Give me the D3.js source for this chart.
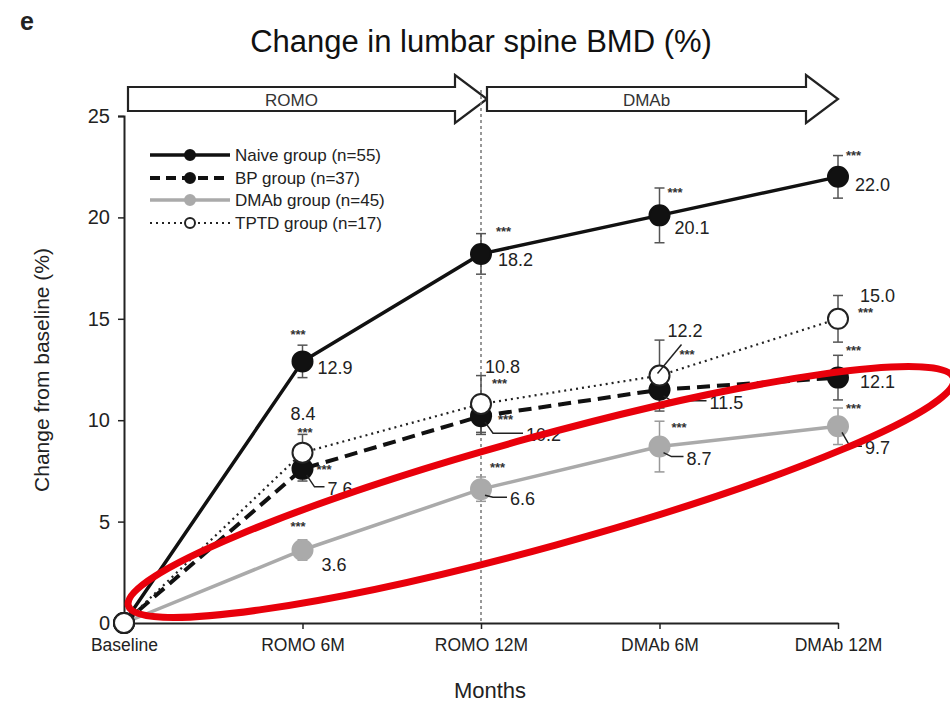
<!DOCTYPE html>
<html><head><meta charset="utf-8">
<script src="https://cdn.jsdelivr.net/npm/d3@7"></script>
<style>body{margin:0;background:#fff}svg{display:block}text{font-family:Arial,"Liberation Sans",sans-serif}</style>
</head><body>
<svg id="chart" width="950" height="704"></svg>
<script>
const categories = ["Baseline","ROMO 6M","ROMO 12M","DMAb 6M","DMAb 12M"];
const yTicks = [0,5,10,15,20,25];
const seriesNames = ["Naive group (n=55)","BP group (n=37)","DMAb group (n=45)","TPTD group (n=17)"];
const naiveValues = [0,12.9,18.2,20.1,22.0];
const bpValues = [0,7.6,10.2,11.5,12.1];
const dmabValues = [0,3.6,6.6,8.7,9.7];
const tptdValues = [0,8.4,10.8,12.2,15.0];
const naiveErr = [0,0.8,1.0,1.35,1.05];
const bpErr = [0,0.6,0.9,0.9,1.1];
const dmabErr = [0,0.5,0.6,1.25,0.9];
const tptdErr = [0,0.9,1.4,1.75,1.15];
const phases = ["ROMO","DMAb"];

// label layout: [valueDx, valueDy, starDx, starDy, leader?] relative to point
const labelLayout = {
  naive: [null,[15,13,-12,-22],[17,12,15,-18],[15,19,8,-18],[17,14,8,-17]],
  bp: [null,[25,26,14,5,1],[45,25,17,8,1],[50,19,null,null,1],[22,10,8,-23]],
  dmab: [null,[19,21,-12,-19],[29,16,9,-17,1],[27,18,12,-15,1],[27,28,8,-13,1]],
  tptd: [null,[-12,-33,-5,-16],[4,-31,11,-16],[8,-39,20,-17,2],[22,-17,20,-2]]
};

const svg = d3.select("#chart");
const x = d3.scalePoint().domain(categories).range([124,838]);
const y = d3.scaleLinear().domain([0,25]).range([623,116]);

// title
svg.append("text").attr("x",20).attr("y",30).attr("font-size",25).attr("font-weight","bold").attr("fill","#222").text("e");
svg.append("text").attr("x",481).attr("y",52).attr("text-anchor","middle").attr("font-size",31).attr("fill","#111").text("Change in lumbar spine BMD (%)");

// phase arrows
const bodyTop=87, bodyBot=111, headTop=75, headBot=123;
const arrowSpans=[[x(categories[0])+4,x(categories[2])+6],[x(categories[2])+6,x(categories[4])]];
phases.forEach((p,i)=>{
  const [x0,x1]=arrowSpans[i]; const hb=x1-32;
  svg.append("path").attr("d",`M${x0},${bodyTop}H${hb}V${headTop}L${x1},${(headTop+headBot)/2}L${hb},${headBot}V${bodyBot}H${x0}Z`)
    .attr("fill","#fff").attr("stroke","#222").attr("stroke-width",2.2).attr("stroke-linejoin","miter");
  svg.append("text").attr("x",(x0+hb)/2).attr("y",106).attr("text-anchor","middle").attr("font-size",17).attr("fill","#333").text(p);
});

// vertical dotted line
svg.append("line").attr("x1",x(categories[2])).attr("x2",x(categories[2])).attr("y1",90).attr("y2",y(0))
  .attr("stroke","#777").attr("stroke-width",1.5).attr("stroke-dasharray","3,3");

// axes
const yAxis = svg.append("g").attr("transform",`translate(${x(categories[0])},0)`)
  .call(d3.axisLeft(y).tickValues(yTicks).tickSize(6).tickPadding(8));
yAxis.select(".domain").attr("stroke","#222").attr("stroke-width",2);
yAxis.selectAll(".tick line").attr("stroke","#222").attr("stroke-width",1.5);
yAxis.selectAll(".tick text").attr("font-size",20).attr("fill","#222").attr("font-family","Arial, Liberation Sans, sans-serif");
const xAxis = svg.append("g").attr("transform",`translate(0,${y(0)})`)
  .call(d3.axisBottom(x).tickSize(6).tickPadding(10).tickSizeOuter(0));
xAxis.select(".domain").attr("stroke","#222").attr("stroke-width",2);
xAxis.selectAll(".tick line").attr("stroke","#222").attr("stroke-width",1.5);
xAxis.selectAll(".tick text").attr("font-size",17.5).attr("fill","#222").attr("font-family","Arial, Liberation Sans, sans-serif");

svg.append("text").attr("transform","translate(49,370) rotate(-90)").attr("text-anchor","middle").attr("font-size",21).attr("fill","#222").text("Change from baseline (%)");
svg.append("text").attr("x",490).attr("y",698).attr("text-anchor","middle").attr("font-size",22).attr("fill","#222").text("Months");

const series = [
  {key:"dmab",values:dmabValues,err:dmabErr,stroke:"#aaaaaa",width:3.5,dash:null,fill:"#aaaaaa",mstroke:"#aaaaaa",r:10,ecol:"#999"},
  {key:"bp",values:bpValues,err:bpErr,stroke:"#111",width:4,dash:"13,7",fill:"#111",mstroke:"#111",r:10,ecol:"#555"},
  {key:"naive",values:naiveValues,err:naiveErr,stroke:"#111",width:3.5,dash:null,fill:"#111",mstroke:"#111",r:10,ecol:"#555"},
  {key:"tptd",values:tptdValues,err:tptdErr,stroke:"#222",width:2.2,dash:"2,4",fill:"#fff",mstroke:"#222",r:10,ecol:"#555"}
];
const line = d3.line().x((d,i)=>x(categories[i])).y(d=>y(d));

series.forEach(s=>{
  const g = svg.append("g");
  s.values.forEach((v,i)=>{
    if(!s.err[i]) return;
    const cx=x(categories[i]);
    g.append("line").attr("x1",cx).attr("x2",cx).attr("y1",y(v+s.err[i])).attr("y2",y(v-s.err[i])).attr("stroke",s.ecol).attr("stroke-width",1.5);
    [v+s.err[i],v-s.err[i]].forEach(e=>g.append("line").attr("x1",cx-5).attr("x2",cx+5).attr("y1",y(e)).attr("y2",y(e)).attr("stroke",s.ecol).attr("stroke-width",1.5));
  });
});
series.forEach(s=>{
  svg.append("path").datum(s.values).attr("d",line).attr("fill","none").attr("stroke",s.stroke)
    .attr("stroke-width",s.width).attr("stroke-dasharray",s.dash).attr("stroke-linejoin","round");
});
series.forEach(s=>{
  svg.append("g").selectAll("circle").data(s.values).join("circle")
    .attr("cx",(d,i)=>x(categories[i])).attr("cy",d=>y(d)).attr("r",s.r)
    .attr("fill",s.fill).attr("stroke",s.mstroke).attr("stroke-width",2);
});

// value labels
series.forEach(s=>{
  s.values.forEach((v,i)=>{
    const L = labelLayout[s.key][i]; if(!L) return;
    const cx=x(categories[i]), cy=y(v);
    svg.append("text").attr("x",cx+L[0]).attr("y",cy+L[1]).attr("font-size",18).attr("fill","#222").text(v.toFixed(1));
    if(L[2]!==null) svg.append("text").attr("x",cx+L[2]).attr("y",cy+L[3]).attr("font-size",13).attr("font-weight","bold").attr("fill","#333").text("***");
    if(L[4]===1){
      svg.append("path").attr("d",`M${cx+4},${cy+6}L${cx+12},${cy+L[1]-8}H${cx+L[0]-3}`).attr("fill","none").attr("stroke","#222").attr("stroke-width",1.5);
    } else if(L[4]===2){
      svg.append("line").attr("x1",cx-2).attr("y1",cy-2).attr("x2",cx+22).attr("y2",cy+L[1]+8).attr("stroke","#222").attr("stroke-width",1.5);
    }
  });
});

// legend
const legY=[155,178,200,223];
const legKeys=["naive","bp","dmab","tptd"];
legKeys.forEach((k,i)=>{
  const s=series.find(d=>d.key===k);
  const g=svg.append("g");
  g.append("line").attr("x1",150).attr("x2",230).attr("y1",legY[i]).attr("y2",legY[i]).attr("stroke",s.stroke)
    .attr("stroke-width",s.width).attr("stroke-dasharray",k==="bp"?"10,6":(k==="tptd"?"2,4":null));
  g.append("circle").attr("cx",190).attr("cy",legY[i]).attr("r",5).attr("fill",s.fill).attr("stroke",s.mstroke).attr("stroke-width",2);
  g.append("text").attr("x",235).attr("y",legY[i]+6).attr("font-size",17).attr("fill","#222").text(seriesNames[i]);
});

// red annotation ellipse
svg.append("ellipse").attr("cx",541).attr("cy",492).attr("rx",428).attr("ry",55)
  .attr("transform","rotate(-15.4,541,492)").attr("fill","none").attr("stroke","#e8000b").attr("stroke-width",7);
</script>
</body></html>
